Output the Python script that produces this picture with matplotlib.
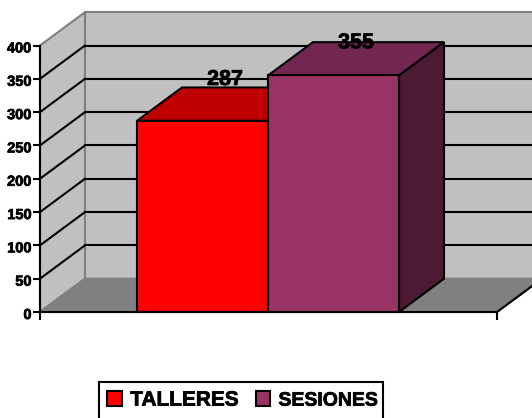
import matplotlib
matplotlib.use('Agg')
import matplotlib.pyplot as plt
import matplotlib.patheffects as pe
from matplotlib.patches import Polygon, Patch, Rectangle
from matplotlib.transforms import ScaledTranslation

categories = ['TALLERES', 'SESIONES']
values = [287, 355]
y_ticks = [0, 50, 100, 150, 200, 250, 300, 350, 400]
front_colors = ['#FF0000', '#993366']
top_colors = ['#BF0000', '#732650']
side_colors = ['#800000', '#4C1A33']
# labels do not sit at the same height over each bar
label_lift = [12, -1]

plt.rcParams['font.family'] = ['Liberation Sans', 'DejaVu Sans']
plt.rcParams['font.weight'] = 'bold'

W, H = 532, 418
# depth of the fake 3d box, in data units
DX = 45 / 457
DY = 50.0
BAR_W = 131 / 457
BAR_START = 97 / 457

heavy = [pe.withStroke(linewidth=0.5, foreground='black')]


def poly(ax, pts, fc, ec='black', lw=1.5, z=2):
    ax.add_patch(Polygon(pts, closed=True, facecolor=fc, edgecolor=ec, linewidth=lw,
                         joinstyle='miter', clip_on=False, zorder=z))


fig = plt.figure(figsize=(W / 100, H / 100), dpi=100)
ax = fig.add_axes([40 / W, 1 - 312 / H, 457 / W, 266.5 / H])
ax.set_xlim(0, 1)
ax.set_ylim(0, 400)
ax.patch.set_visible(False)

# walls and floor
top = y_ticks[-1]
poly(ax, [(0, 0), (DX, DY), (DX, top + DY), (0, top)], '#C0C0C0', ec='#808080', z=1)
poly(ax, [(DX, DY), (1 + DX, DY), (1 + DX, top + DY), (DX, top + DY)], '#C0C0C0', ec='#808080', z=1)
poly(ax, [(0, 0), (DX, DY), (1 + DX, DY), (1, 0)], '#808080', ec='#808080', z=1)

# gridlines, side wall then back wall
for t in y_ticks[1:-1]:
    ax.plot([0, DX], [t, t + DY], color='black', lw=1.5, clip_on=False, zorder=1.5)
    ax.plot([DX, 1 + DX], [t + DY, t + DY], color='black', lw=1.5, clip_on=False, zorder=1.5)
ax.plot([1, 1 + DX], [0, DY], color='black', lw=1.5, clip_on=False, zorder=1.5)

# bars
for i, (name, v) in enumerate(zip(categories, values)):
    x0 = BAR_START + i * BAR_W
    x1 = x0 + BAR_W
    poly(ax, [(x0, v), (x0 + DX, v + DY), (x1 + DX, v + DY), (x1, v)], top_colors[i], z=3 + i)
    poly(ax, [(x1, 0), (x1 + DX, DY), (x1 + DX, v + DY), (x1, v)], side_colors[i], z=3 + i)
    ax.bar(x0, v, width=BAR_W, align='edge', color=front_colors[i], edgecolor='black',
           linewidth=1.5, zorder=3.5 + i, clip_on=False)
    ax.text(x0 + BAR_W / 2 + DX / 2, v + DY + label_lift[i], str(v), ha='center', va='center',
            fontsize=15.5, fontweight='bold', color='black', zorder=10, clip_on=False,
            path_effects=heavy)

for s in ['top', 'right']:
    ax.spines[s].set_visible(False)
for s in ['left', 'bottom']:
    ax.spines[s].set_linewidth(1.5)
    ax.spines[s].set_zorder(9)
ax.set_yticks(y_ticks)
ax.set_xticks([0, 1])
ax.set_xticklabels(['', ''])
ax.tick_params(axis='y', length=5, width=1.5, labelsize=10.5, pad=1)
ax.tick_params(axis='x', length=6, width=1.5)
shift = ScaledTranslation(0, -1.5 / 100, fig.dpi_scale_trans)
for lab in ax.get_yticklabels():
    lab.set_path_effects(heavy)
    lab.set_transform(lab.get_transform() + shift)

# legend box runs off the bottom of the picture, so it is drawn apart from the legend
fig.add_artist(Rectangle((99 / W, 1 - 425 / H), 284 / W, 43.5 / H, transform=fig.transFigure,
                         facecolor='white', edgecolor='black', linewidth=1.5))
handles = [Patch(facecolor=c, edgecolor='black', linewidth=1.5) for c in front_colors]
leg = fig.legend(handles, categories, loc='lower left', bbox_to_anchor=(99 / W, 1 - 418 / H),
                 ncol=2, fontsize=15, frameon=False, handlelength=0.7, handleheight=0.7,
                 handletextpad=0.4, columnspacing=0.8, borderpad=0.4, borderaxespad=0)
leg.set_zorder(5)
for t in leg.get_texts():
    t.set_fontweight('bold')
    t.set_path_effects(heavy)
leg.get_texts()[1].set_fontsize(14)

fig.savefig('out.png', dpi=100)
